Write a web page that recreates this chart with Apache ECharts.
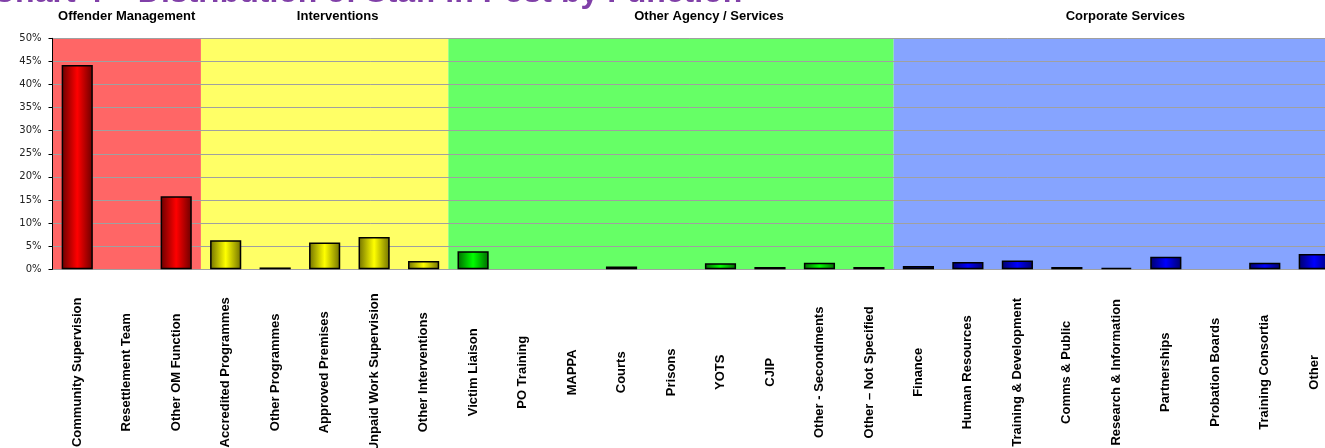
<!DOCTYPE html>
<html>
<head>
<meta charset="utf-8">
<script src="https://cdn.jsdelivr.net/npm/echarts@6/dist/echarts.min.js"></script>
<style>html,body{margin:0;padding:0;background:#fff;}#c{width:1325px;height:448px;}</style>
</head>
<body>
<div id="c"></div>
<script>
const titleText = 'Chart 4 \u2013 Distribution of Staff in Post by Function';
const categories = [
  'Community Supervision','Resettlement Team','Other OM Function',
  'Accredited Programmes','Other Programmes','Approved Premises','Unpaid Work Supervision','Other Interventions',
  'Victim Liaison','PO Training','MAPPA','Courts','Prisons','YOTS','CJIP','Other - Secondments','Other \u2013 Not Specified',
  'Finance','Human Resources','Training & Development','Comms & Public','Research & Information','Partnerships','Probation Boards','Training Consortia','Other'
];
const values = [44.2, 0, 15.8, 6.3, 0.4, 5.8, 7.0, 1.8, 3.9, 0, 0, 0.6, 0, 1.3, 0.5, 1.4, 0.5, 0.7, 1.6, 1.9, 0.5, 0.3, 2.7, 0, 1.4, 3.3];
const groupNames = ['Offender Management','Interventions','Other Agency / Services','Corporate Services'];
const groupSizes = [3, 5, 9, 9];
const yTicks = [0,5,10,15,20,25,30,35,40,45,50];

const bandColors = ['#FF6666', '#FFFF66', '#66FF66', '#86A4FF'];
const barDark = ['#6A0000', '#707000', '#006A00', '#00006A'];
const barBright = ['#FF0000', '#FFFF00', '#00FF00', '#0000FF'];
const labelOffsets = [0, 13, 38, 9];

const groupOf = [];
groupSizes.forEach((n, g) => { for (let i = 0; i < n; i++) groupOf.push(g); });

function barGrad(g) {
  return new echarts.graphic.LinearGradient(0, 0, 1, 0, [
    {offset: 0, color: barDark[g]},
    {offset: 0.5, color: barBright[g]},
    {offset: 1, color: barDark[g]}
  ]);
}

const barData = values.map((v, i) => v === 0 ? '-' : {
  value: v,
  itemStyle: {color: barGrad(groupOf[i])}
});

let start = 0;
const areas = groupSizes.map((n, g) => {
  const a = [{
    xAxis: start,
    name: groupNames[g],
    itemStyle: {color: bandColors[g], opacity: 1},
    label: {offset: [labelOffsets[g], 0]}
  }, {xAxis: start + n}];
  start += n;
  return a;
});

const font = 'Liberation Sans, Arial, sans-serif';
const chart = echarts.init(document.getElementById('c'));
chart.setOption({
  animation: false,
  title: {
    text: titleText, left: -13, top: -28,
    textStyle: {fontSize: 32, fontWeight: 'bold', color: '#8040A8', fontFamily: font}
  },
  grid: {left: 52.5, top: 38.3, width: 1286.5, height: 231, containLabel: false, outerBoundsMode: 'none'},
  xAxis: [{
    type: 'category', data: categories,
    axisLine: {lineStyle: {color: '#808080'}},
    axisTick: {show: false},
    axisLabel: {
      interval: 0, rotate: 90, align: 'center', verticalAlign: 'middle', margin: 103,
      fontSize: 13, fontWeight: 'bold', color: '#000', fontFamily: font
    }
  }, {
    type: 'value', min: 0, max: 26, show: false
  }],
  yAxis: {
    type: 'value', min: yTicks[0], max: yTicks[yTicks.length - 1], interval: 5, z: 1,
    axisLine: {show: true, lineStyle: {color: '#000', width: 1}},
    axisTick: {show: true, length: 4, lineStyle: {color: '#000'}},
    axisLabel: {formatter: '{value}%', fontSize: 10, color: '#222', margin: 11, fontFamily: 'DejaVu Sans, sans-serif'},
    splitLine: {lineStyle: {color: '#A0A0A0', width: 1}}
  },
  series: [{
    type: 'line', xAxisIndex: 1, data: [], silent: true, z: 0, clip: false,
    markArea: {
      silent: true, z: 0,
      label: {show: true, position: 'top', distance: 15, color: '#000', fontSize: 13, fontWeight: 'bold', fontFamily: font},
      data: areas
    }
  }, {
    type: 'bar', xAxisIndex: 0, data: barData, barWidth: '63%', z: 2,
    itemStyle: {borderColor: '#000', borderWidth: 1.5}
  }]
});
</script>
</body>
</html>
